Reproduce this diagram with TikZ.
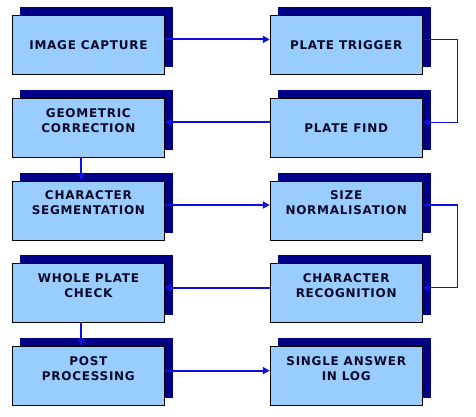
\documentclass[tikz,border=0pt]{standalone}
\usepackage{fontspec}
\setmainfont{DejaVu Sans}[LetterSpace=6]
\usetikzlibrary{positioning,shadows,arrows.meta}

\definecolor{boxblue}{RGB}{153,204,255}
\definecolor{shadowblue}{RGB}{0,0,135}
\definecolor{linkblue}{RGB}{15,15,225}
\definecolor{textnavy}{RGB}{10,10,40}

\tikzset{
	stepbox/.style={draw=black, line width=0.8pt, fill=boxblue,
		minimum width=152pt, minimum height=59pt, inner sep=0pt,
		align=center, text=textnavy, font=\bfseries\fontsize{12}{15}\selectfont,
		copy shadow={shadow xshift=8pt, shadow yshift=8pt, fill=shadowblue, draw=shadowblue}},
	twoline/.style={text depth=15pt},
	link/.style={draw=linkblue, line width=2pt, -{Triangle[length=7pt,width=7pt]}},
	loopback/.style={link, line width=1.2pt},
}

\begin{document}
\begin{tikzpicture}[node distance=23pt and 105pt]
	\useasboundingbox (0,0) rectangle (476pt,-417pt);
	\node [stepbox, anchor=north west] (a) at (12pt,-15pt) {IMAGE CAPTURE};
	\node [stepbox, right=of a] (b) {PLATE TRIGGER};
	\node [stepbox, below=of b] (c) {PLATE FIND};
	\node [stepbox, twoline, left=of c] (d) {GEOMETRIC\\CORRECTION};
	\node [stepbox, twoline, below=of d] (e) {CHARACTER\\SEGMENTATION};
	\node [stepbox, twoline, right=of e] (f) {SIZE\\NORMALISATION};
	\node [stepbox, twoline, below=of f] (g) {CHARACTER\\RECOGNITION};
	\node [stepbox, twoline, left=of g] (h) {WHOLE PLATE\\CHECK};
	\node [stepbox, twoline, below=of h] (i) {POST\\PROCESSING};
	\node [stepbox, twoline, right=of i] (j) {SINGLE ANSWER\\IN LOG};
	
	% links
	\draw [link] ([yshift=5.5pt]a.east) -- ([yshift=5.5pt]b.west);
	\draw [loopback] ([yshift=5.5pt]b.east) -- ++(35pt,0) |- ([yshift=5.5pt]c.east);
	\draw [link] ([yshift=5.5pt]c.west) -- ([yshift=5.5pt]d.east);
	\draw [link] ([xshift=-7pt]d.south) -- ([xshift=-7pt]e.north);
	\draw [link] ([yshift=5.5pt]e.east) -- ([yshift=5.5pt]f.west);
	\draw [loopback] ([yshift=5.5pt]f.east) -- ++(35pt,0) |- ([yshift=5.5pt]g.east);
	\draw [link] ([yshift=5.5pt]g.west) -- ([yshift=5.5pt]h.east);
	\draw [link] ([xshift=-7pt]h.south) -- ([xshift=-7pt]i.north);
	\draw [link] ([yshift=5.5pt]i.east) -- ([yshift=5.5pt]j.west);
\end{tikzpicture}
\end{document}
